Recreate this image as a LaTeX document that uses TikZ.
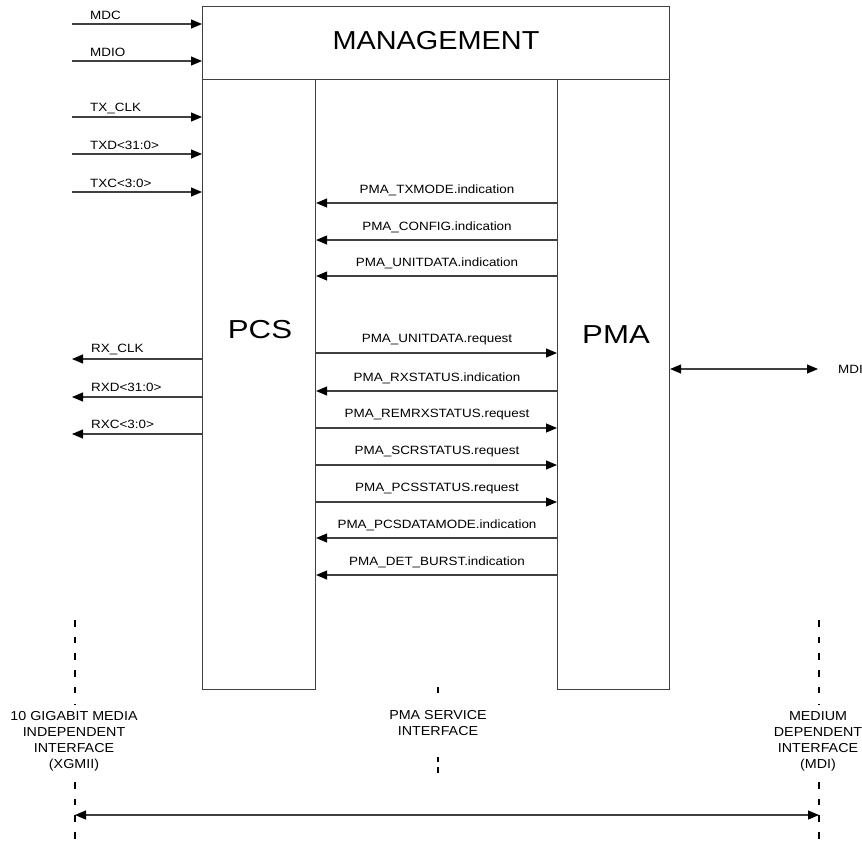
\documentclass[tikz,border=0pt]{standalone}
\usepackage{fontspec}
\setmainfont{Liberation Sans}
\newfontfamily\sigfont[FakeStretch=1.12]{Liberation Sans}
\newfontfamily\capfont[FakeStretch=1.1]{Liberation Sans}
\newfontfamily\titlefont[FakeStretch=1.11]{Liberation Sans}
\newfontfamily\layerfont[FakeStretch=1.2]{Liberation Sans}
\usetikzlibrary{arrows.meta}

\begin{document}
\begin{tikzpicture}[x=1pt,y=-1pt,
  box/.style={draw=black!75, line width=1.1pt, inner sep=0pt, anchor=north west},
  wire/.style={draw=black!75, line width=1.1pt},
  head/.style={Triangle[length=11pt,width=9pt,color=black]},
  sig/.style={wire, -{Triangle[length=11pt,width=9pt,color=black]}},
  bisig/.style={wire, {Triangle[length=11pt,width=9pt,color=black]}-{Triangle[length=11pt,width=9pt,color=black]}},
  siglabel/.style={font=\sigfont\fontsize{12}{14}\selectfont, inner sep=0pt},
  caption/.style={font=\capfont\fontsize{13}{16}\selectfont, align=center, inner sep=0pt},
  edge line/.style={draw=black, line width=1.1pt, dash pattern=on 6.5pt off 10.2pt}]

\useasboundingbox (0,0) rectangle (862,844);

% layer boxes
\node[box, minimum width=467pt, minimum height=73pt] (mgmt) at (202,6) {};
\node[box, minimum width=113pt, minimum height=610pt] (pcs) at (202,79) {};
\node[box, minimum width=112pt, minimum height=610pt] (pma) at (557,79) {};

\node[font=\titlefont\fontsize{26}{30}\selectfont, inner sep=0pt] (mgmt-t) at (436,41) {MANAGEMENT};
\node[font=\layerfont\fontsize{26}{30}\selectfont, inner sep=0pt] (pcs-t) at (260,330) {PCS};
\node[font=\layerfont\fontsize{26}{30}\selectfont, inner sep=0pt] (pma-t) at (616,335) {PMA};

% XGMII inputs
\foreach \nm/\yy/\txt in {mdc/24/MDC, mdio/61/MDIO, txclk/117/TX\_CLK, txd/154/TXD<31:0>, txc/192/TXC<3:0>}{
  \coordinate (\nm-in) at (72,\yy);
  \draw[sig] (\nm-in) -- (\nm-in -| pcs.west);
  \node[siglabel, anchor=west] (\nm-l) at (90,\yy-9) {\txt};
}

% XGMII outputs
\foreach \nm/\yy/\txt in {rxclk/359/RX\_CLK, rxd/397/RXD<31:0>, rxc/434/RXC<3:0>}{
  \coordinate (\nm-out) at (72,\yy);
  \draw[sig] (\nm-out -| pcs.west) -- (\nm-out);
  \node[siglabel, anchor=west] (\nm-l) at (91,\yy-10) {\txt};
}

% PMA service primitives towards the PCS
\foreach \nm/\yy/\txt in {txmode/203/PMA\_TXMODE.indication, config/240/PMA\_CONFIG.indication,
    unitind/276/PMA\_UNITDATA.indication, rxstatus/391/PMA\_RXSTATUS.indication,
    pcsdm/538/PMA\_PCSDATAMODE.indication, detburst/575/PMA\_DET\_BURST.indication}{
  \coordinate (\nm) at (436,\yy);
  \draw[sig] (\nm -| pma.west) -- (\nm -| pcs.east);
  \node[siglabel] (\nm-l) at (437,\yy-13) {\txt};
}

% PMA service primitives towards the PMA
\foreach \nm/\yy/\txt in {unitreq/353/PMA\_UNITDATA.request, remrx/428/PMA\_REMRXSTATUS.request,
    scr/465/PMA\_SCRSTATUS.request, pcsst/502/PMA\_PCSSTATUS.request}{
  \coordinate (\nm) at (436,\yy);
  \draw[sig] (\nm -| pcs.east) -- (\nm -| pma.west);
  \node[siglabel] (\nm-l) at (437,\yy-13) {\txt};
}

% medium side
\coordinate (mdi-end) at (818,369);
\draw[bisig] (mdi-end -| pma.east) -- (mdi-end);
\node[siglabel, anchor=west] (mdi-l) at (838,369) {MDI};

% interface boundaries
\draw[edge line] (75,620) -- (75,704);
\draw[edge line] (75,782) -- (75,844);
\draw[edge line] (819,620) -- (819,704);
\draw[edge line] (819,782) -- (819,844);
\draw[draw=black, line width=1.1pt] (438,687) -- (438,693);
\draw[draw=black, line width=1.1pt] (438,757) -- (438,762);
\draw[draw=black, line width=1.1pt] (438,767) -- (438,773);

\node[caption] (xgmii) at (74,741) {10 GIGABIT MEDIA\\INDEPENDENT\\INTERFACE\\(XGMII)};
\node[caption] (psi) at (438,723) {PMA SERVICE\\INTERFACE};
\node[caption] (mdi) at (818,741) {MEDIUM\\DEPENDENT\\INTERFACE\\(MDI)};

\coordinate (span-l) at (75,815);
\coordinate (span-r) at (819,815);
\draw[bisig] (span-l) -- (span-r);

\end{tikzpicture}
\end{document}
